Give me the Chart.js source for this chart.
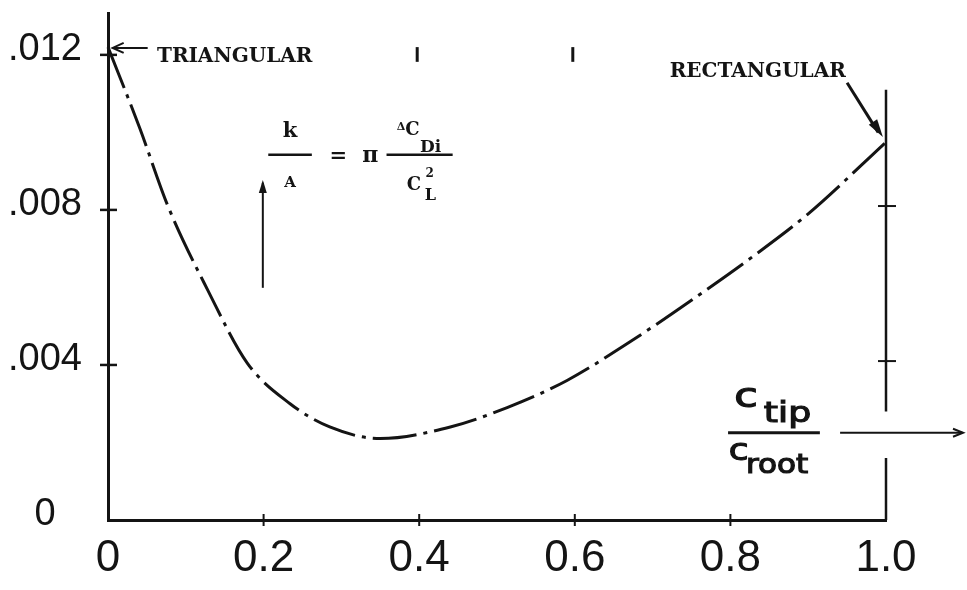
<!DOCTYPE html>
<html>
<head>
<meta charset="utf-8">
<script src="https://cdn.jsdelivr.net/npm/chart.js@4/dist/chart.umd.min.js"></script>
<style>
  html, body { margin: 0; padding: 0; background: #ffffff; }
  #wrap { width: 967px; height: 590px; }
</style>
</head>
<body>
<div id="wrap"><canvas id="c" width="967" height="590"></canvas></div>
<script>
// Taper ratio c_tip / c_root along the horizontal axis
const taperRatio = [0, 0.041, 0.077, 0.129, 0.179, 0.234, 0.285, 0.35, 0.44, 0.513, 0.59, 0.675, 0.752, 0.829, 0.9, 1.0];
// Induced drag factor k / A for each taper ratio
const dragFactor = [0.0122, 0.0101, 0.0081, 0.0059, 0.00405, 0.0030, 0.0024, 0.0021, 0.0024, 0.0029, 0.0036, 0.00465, 0.0057, 0.0068, 0.0079, 0.00975];

const xTickValues = [0, 0.2, 0.4, 0.6, 0.8, 1.0];
const xTickLabels = ['0', '0.2', '0.4', '0.6', '0.8', '1.0'];
const yTickValues = [0, 0.004, 0.008, 0.012];
const yTickLabels = ['0', '.004', '.008', '.012'];

const INK = '#141414';
const HAND = '"Liberation Sans", Arimo, sans-serif';
const TYPE = '"DejaVu Serif", "Liberation Serif", serif';
const ROUND = '"DejaVu Sans", sans-serif';

function arrowHead(ctx, x0, y0, x1, y1, len, half, filled) {
  const a = Math.atan2(y1 - y0, x1 - x0);
  const bx = x1 - len * Math.cos(a), by = y1 - len * Math.sin(a);
  const px = -Math.sin(a) * half, py = Math.cos(a) * half;
  ctx.beginPath();
  ctx.moveTo(bx + px, by + py);
  ctx.lineTo(x1, y1);
  ctx.lineTo(bx - px, by - py);
  if (filled) { ctx.closePath(); ctx.fill(); } else { ctx.stroke(); }
}

function line(ctx, x0, y0, x1, y1, w) {
  ctx.lineWidth = w;
  ctx.beginPath(); ctx.moveTo(x0, y0); ctx.lineTo(x1, y1); ctx.stroke();
}

function text(ctx, str, font, x, y) {
  ctx.font = font;
  ctx.fillText(str, x, y);
}

// hand-lettered word: regular glyphs, widened and thickened a little
function lettered(ctx, str, size, x, y, sx) {
  ctx.save();
  ctx.translate(x, y);
  ctx.scale(sx, 1);
  ctx.font = size + 'px ' + ROUND;
  ctx.lineWidth = 1.2;
  ctx.fillText(str, 0, 0);
  ctx.strokeText(str, 0, 0);
  ctx.restore();
}

// Hand-drawn extras: crossing ticks, right frame line, labels, formula and arrows
const inkPlugin = {
  id: 'ink',
  afterDraw(chart) {
    const { ctx, scales: { x, y } } = chart;
    const X = v => x.getPixelForValue(v);
    const Y = v => y.getPixelForValue(v);
    ctx.save();
    ctx.strokeStyle = INK;
    ctx.fillStyle = INK;
    ctx.lineCap = 'butt';

    // ticks crossing the axes
    yTickValues.slice(1).forEach(v => line(ctx, X(0) - 8, Y(v), X(0) + 9, Y(v), 2.5));
    xTickValues.slice(1, -1).forEach(v => line(ctx, X(v), Y(0) - 6, X(v), Y(0) + 6, 2));

    // right-hand frame line at c_tip/c_root = 1, broken where the axis arrow passes
    line(ctx, X(1), Y(0.0111), X(1), Y(0.0028), 2.5);
    line(ctx, X(1), Y(0.0016), X(1), Y(0), 2.5);
    [0.0081, 0.0041].forEach(v => line(ctx, X(1) - 8, Y(v), X(1) + 10, Y(v), 2));

    // small marks at the .012 level
    [0.4, 0.6].forEach(v => line(ctx, X(v) - 2, Y(0.0122), X(v) - 2, Y(0.01182), 3));

    // TRIANGULAR label and arrow
    ctx.textBaseline = 'middle';
    ctx.textAlign = 'left';
    text(ctx, 'TRIANGULAR', 'bold 20px ' + TYPE, X(0.063), Y(0.01195));
    line(ctx, X(0.051), Y(0.01218), X(0.008), Y(0.01218), 2);
    arrowHead(ctx, X(0.051), Y(0.01218), X(0.006), Y(0.01218), 11, 5, false);

    // RECTANGULAR label and arrow
    text(ctx, 'RECTANGULAR', 'bold 20px ' + TYPE, X(0.722), Y(0.01157));
    line(ctx, X(0.95), Y(0.01128), X(0.99), Y(0.0100), 3);
    arrowHead(ctx, X(0.95), Y(0.01128), X(0.996), Y(0.00988), 18, 5, true);

    // k/A = pi dCDi / CL^2 formula with upward arrow
    const fy = Y(0.00942);
    const kx = (X(0.206) + X(0.262)) / 2;
    line(ctx, X(0.206), fy, X(0.262), fy, 2.5);
    ctx.textBaseline = 'alphabetic';
    ctx.textAlign = 'center';
    text(ctx, 'k', 'bold 21px ' + TYPE, kx, fy - 18);
    text(ctx, 'A', 'bold 15px ' + TYPE, kx, fy + 32);
    text(ctx, '=', 'bold 21px ' + TYPE, X(0.296), fy + 7);
    text(ctx, '\u03C0', 'bold 22px ' + TYPE, X(0.337), fy + 7);
    line(ctx, X(0.358), fy, X(0.443), fy, 2.5);
    ctx.textAlign = 'left';
    text(ctx, '\u0394', 'bold 11px ' + TYPE, X(0.371), fy - 25);
    text(ctx, 'C', 'bold 18px ' + TYPE, X(0.382), fy - 20);
    text(ctx, 'Di', 'bold 17px ' + TYPE, X(0.401), fy - 3);
    text(ctx, 'C', 'bold 18px ' + TYPE, X(0.384), fy + 35);
    text(ctx, '2', 'bold 12px ' + TYPE, X(0.408), fy + 22);
    text(ctx, 'L', 'bold 16px ' + TYPE, X(0.407), fy + 45);
    line(ctx, X(0.199), Y(0.00599), X(0.199), Y(0.0087), 2);
    arrowHead(ctx, X(0.199), Y(0.00599), X(0.199), Y(0.00877), 13, 4, true);

    // c_tip / c_root axis title with arrow
    const ty = Y(0.00225);
    line(ctx, X(0.797), ty, X(0.915), ty, 3);
    line(ctx, X(0.941), ty, X(1.098), ty, 2);
    arrowHead(ctx, X(0.941), ty, X(1.099), ty, 10, 4, false);
    lettered(ctx, 'c', 33, X(0.805), ty - 26, 1.3);
    lettered(ctx, 'tip', 29, X(0.843), ty - 11, 1.25);
    lettered(ctx, 'c', 30, X(0.798), ty + 27, 1.2);
    lettered(ctx, 'root', 27, X(0.82), ty + 40, 1.15);

    ctx.restore();
  }
};

new Chart(document.getElementById('c'), {
  type: 'line',
  data: {
    datasets: [{
      data: taperRatio.map((t, i) => ({ x: t, y: dragFactor[i] })),
      borderColor: INK,
      borderWidth: 3,
      borderDash: [44, 7, 4, 7],
      pointRadius: 0,
      cubicInterpolationMode: 'monotone',
      fill: false,
      clip: false
    }]
  },
  options: {
    responsive: false,
    animation: false,
    events: [],
    layout: { padding: { top: 13, right: 81, left: 0, bottom: 0 } },
    plugins: { legend: { display: false }, tooltip: { enabled: false } },
    scales: {
      x: {
        type: 'linear',
        min: 0,
        max: 1,
        afterBuildTicks: s => { s.ticks = xTickValues.map(v => ({ value: v })); },
        afterFit: s => { s.height = 70; s.paddingLeft = 0; s.paddingRight = 0; },
        grid: { display: false, drawTicks: false },
        border: { display: true, color: INK, width: 3 },
        ticks: {
          autoSkip: false,
          maxRotation: 0,
          padding: 12,
          color: INK,
          font: { family: HAND, size: 44 },
          callback: (v, i) => xTickLabels[i]
        }
      },
      y: {
        type: 'linear',
        min: 0,
        max: 0.01308,
        afterBuildTicks: s => { s.ticks = yTickValues.map(v => ({ value: v })); },
        afterFit: s => { s.width = 108; s.paddingTop = 0; s.paddingBottom = 0; },
        grid: { display: false, drawTicks: false },
        border: { display: true, color: INK, width: 3 },
        ticks: {
          autoSkip: false,
          crossAlign: 'center',
          padding: 26,
          labelOffset: -5,
          color: INK,
          font: { family: HAND, size: 38 },
          callback: (v, i) => yTickLabels[i]
        }
      }
    }
  },
  plugins: [inkPlugin]
});
</script>
</body>
</html>
